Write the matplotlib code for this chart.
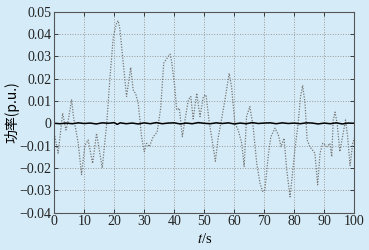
import matplotlib
matplotlib.use("Agg")
import matplotlib.pyplot as plt

# dotted curve (power fluctuation), in p.u.
t_fluct = [0, 1.3, 2.8, 3.9, 4.7, 5.8, 6.4, 8.0, 9.1, 10.2, 11.3, 12.8, 14.1, 16.0,
           17.5, 18.6, 19.7, 20.8, 21.3, 21.9, 23.0, 24.1, 25.5, 26.3, 27.2, 28.0,
           29.1, 30.0, 30.8, 31.7, 33.0, 34.3, 35.5, 36.5, 37.5, 38.6, 39.1, 40.2,
           40.8, 41.7, 42.7, 43.6, 44.7, 45.5, 46.3, 47.5, 48.6, 49.7, 50.6, 51.7,
           52.8, 53.7, 54.7, 55.8, 56.9, 58.3, 59.1, 60.2, 61.3, 62.5, 63.3, 64.1,
           65.2, 66.3, 67.5, 68.6, 69.5, 70.2, 71.3, 72.2, 73.6, 74.7, 75.6, 76.6,
           77.5, 78.6, 79.3, 80.2, 81.3, 82.1, 82.8, 83.6, 84.3, 85.2, 86.1, 86.9,
           87.8, 88.6, 89.5, 90.2, 91.0, 91.9, 92.5, 93.0, 93.6, 94.3, 95.2, 96.3,
           97.1, 97.8, 98.6, 99.5, 100]
p_fluct = [-0.0045, -0.0134, 0.0045, -0.003, 0.0015, 0.0107, 0.003, -0.009, -0.023,
           -0.010, -0.0075, -0.018, -0.0045, -0.020, 0.0, 0.021, 0.039, 0.045,
           0.046, 0.042, 0.027, 0.012, 0.025, 0.015, 0.013, 0.009, -0.006, -0.0127,
           -0.009, -0.0105, -0.006, -0.004, 0.007, 0.027, 0.029, 0.031, 0.028,
           0.016, 0.006, 0.0067, -0.006, 0.0015, 0.0105, 0.012, 0.002, 0.0135,
           0.003, 0.012, 0.0127, 0.0, -0.009, -0.017, -0.006, 0.002, 0.0105, 0.0224,
           0.0164, 0.0, -0.003, -0.009, -0.0194, 0.003, 0.0075, -0.0015, -0.018,
           -0.027, -0.0306, -0.030, -0.015, -0.006, -0.0022, -0.0052, -0.0105,
           -0.0067, -0.021, -0.033, -0.024, -0.012, 0.0, 0.012, 0.017, 0.009,
           -0.0075, -0.0105, -0.012, -0.0135, -0.0276, -0.0135, -0.009, -0.0097,
           -0.0105, -0.009, -0.015, 0.0015, 0.005, 0.0, -0.0127, -0.0045, 0.0015,
           -0.006, -0.019, -0.009, -0.0067]

# solid curve (compensated power), close to zero
t_comp = [0, 2, 4, 6, 8, 10, 12, 14, 16, 18, 20, 21, 22, 24, 26, 28, 30, 32, 34, 36,
          38, 40, 42, 44, 46, 48, 50, 52, 54, 56, 58, 60, 62, 64, 66, 68, 70, 72,
          74, 76, 78, 80, 82, 84, 86, 88, 90, 92, 94, 96, 98, 100]
p_comp = [0.0, -0.0002, 0.0001, -0.0002, 0.0002, -0.0001, 0.0001, -0.0003, 0.0002,
          0.0, 0.0003, -0.0005, 0.0002, -0.0002, 0.0001, -0.0003, 0.0002, -0.0002,
          0.0003, -0.0002, 0.0001, 0.0002, -0.0003, 0.0001, -0.0002, 0.0003, 0.0,
          -0.0002, 0.0002, -0.0001, 0.0002, -0.0003, 0.0001, -0.0002, 0.0003,
          -0.0001, 0.0001, 0.0002, -0.0002, 0.0002, -0.0001, 0.0001, -0.0002,
          0.0002, 0.0001, -0.0003, 0.0001, -0.0002, 0.0002, -0.0003, 0.0001, 0.0]

xticks = [0, 10, 20, 30, 40, 50, 60, 70, 80, 90, 100]
yticks = [-0.04, -0.03, -0.02, -0.01, 0, 0.01, 0.02, 0.03, 0.04, 0.05]
ytick_labels = ["\u22120.04", "\u22120.03", "\u22120.02", "\u22120.01", "0",
                "0.01", "0.02", "0.03", "0.04", "0.05"]

bg = "#d5ecf8"
plt.rcParams['font.family'] = ['Liberation Serif', 'Noto Sans CJK SC', 'DejaVu Sans']
plt.rcParams['mathtext.fontset'] = 'stix'

fig = plt.figure(figsize=(3.69, 2.5), dpi=100, facecolor=bg)
ax = fig.add_axes([0.147, 0.15, 0.813, 0.803])
ax.set_facecolor(bg)

ax.plot(t_fluct, p_fluct, linestyle=(0, (1, 1.2)), color='#767676', linewidth=0.9)
ax.plot(t_comp, p_comp, linestyle='-', color='black', linewidth=1.1)

ax.set_xlim(0, 100)
ax.set_ylim(-0.04, 0.05)
ax.set_xticks(xticks)
ax.set_yticks(yticks)
ax.set_yticklabels(ytick_labels)
ax.tick_params(direction='in', top=True, right=True, length=3, width=0.6,
               labelsize=10, colors='#222222', pad=2)
ax.grid(True, linestyle=':', color='#999999', linewidth=0.7)
for s in ax.spines.values():
    s.set_color('#555555')
    s.set_linewidth(0.8)

ax.set_xlabel('$\\it{t}$/s', fontsize=10.5, labelpad=3)
ax.set_ylabel('功率(p.u.)', fontsize=10, labelpad=0,
              family=['Noto Sans CJK SC', 'Liberation Serif'])

fig.savefig('out.png', dpi=100, facecolor=bg)
